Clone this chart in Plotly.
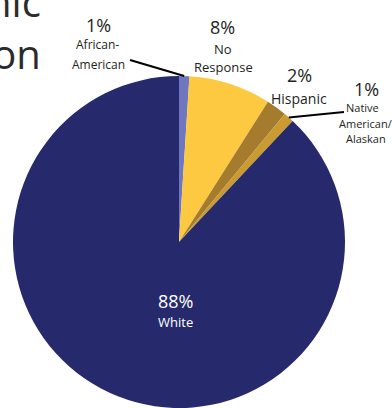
import math
import plotly.graph_objects as go

# Ethnic breakdown (percent of respondents), clockwise from 12 o'clock
groups = ["African-American", "No Response", "Hispanic", "Native American/Alaskan", "White"]
shares = [1, 8, 2, 1, 88]
colors = ["#6f78be", "#fdc940", "#a57b2d", "#c99b30", "#262a6c"]

W, H = 392, 408
CX, CY, R = 179, 242, 166  # pie centre and radius in pixels
FONT = "Open Sans"
INK = "#231f20"


def px(x):
    return x / W


def py(y):
    return 1 - y / H


fig = go.Figure(
    go.Pie(
        labels=groups,
        values=shares,
        sort=False,
        direction="clockwise",
        rotation=0,
        marker=dict(colors=colors, line=dict(width=0)),
        textinfo="none",
        hoverinfo="label+percent",
        showlegend=False,
        domain=dict(x=[px(CX - R), px(CX + R)], y=[py(CY + R), py(CY - R)]),
    )
)


def rim_point(idx):
    """Point on the pie's edge at the middle of slice idx."""
    total = sum(shares)
    start = sum(shares[:idx]) / total * 360
    mid = math.radians(start + shares[idx] / total * 180)
    return CX + R * math.sin(mid), CY - R * math.cos(mid)


annotations = []


def text(x, y, s, size, color=INK, anchor="center", align="center"):
    annotations.append(
        dict(
            x=px(x), y=py(y), xref="paper", yref="paper", text=s, showarrow=False,
            xanchor=anchor, yanchor="middle", align=align,
            font=dict(family=FONT, size=size, color=color),
        )
    )


# Title (runs off the left edge)
text(43, 28, "Ethnic<br>Distribution", 40, "#2b2b2b", "right", "right")

# Outside labels
text(99, 25, f"{shares[0]}%", 18)
text(97, 44, "African-", 12)
text(99, 64, "American", 12)

text(222, 27, f"{shares[1]}%", 18)
text(223, 49, "No", 13)
text(223, 67, "Response", 13)

text(299, 75, f"{shares[2]}%", 18)
text(299, 98, "Hispanic", 14)

text(366, 89, f"{shares[3]}%", 18)
text(362, 108, "Native", 11)
text(365, 123, "American/", 11)
text(366, 138, "Alaskan", 11)

# Inside label for the largest slice
text(175, 301, f"{shares[4]}%", 18, "white")
text(175, 322, "White", 13, "white")

# Leader lines from the slice edge to its label
shapes = []
for idx, (ex, ey) in [(0, (130, 60)), (3, (344, 112))]:
    sx, sy = rim_point(idx)
    shapes.append(
        dict(
            type="line", xref="paper", yref="paper",
            x0=px(sx), y0=py(sy), x1=px(ex), y1=py(ey),
            line=dict(color="black", width=2),
        )
    )

fig.update_layout(
    width=W, height=H,
    margin=dict(l=0, r=0, t=0, b=0),
    paper_bgcolor="white", plot_bgcolor="white",
    annotations=annotations, shapes=shapes,
)

fig.write_html("out.html")
